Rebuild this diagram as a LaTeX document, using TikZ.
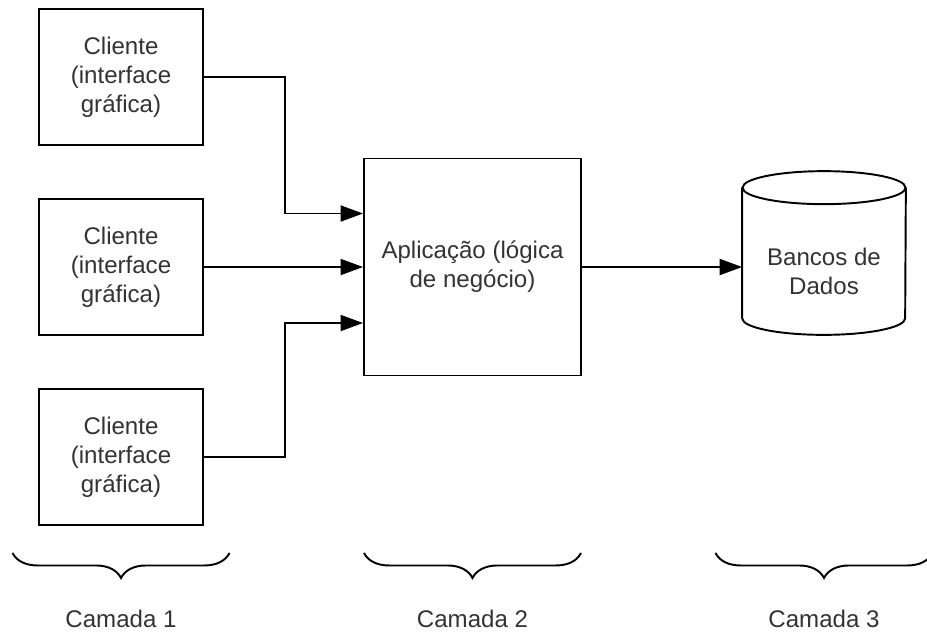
\documentclass[tikz,border=0pt]{standalone}
\usepackage{fontspec}
\setmainfont{Liberation Sans}
\usetikzlibrary{positioning, arrows.meta, calc, decorations.pathreplacing}
\definecolor{txtgray}{RGB}{51,51,51}

\begin{document}
\begin{tikzpicture}
    [
        on grid,
        node distance=3.8cm and 7.03cm,
        txt/.style={font=\fontsize{13.7}{16.5}\selectfont, text=txtgray, align=center},
        client/.style={txt, draw, rectangle, minimum width=3.28cm, minimum height=2.72cm, line width=1.1pt},
        appbox/.style={txt, draw, rectangle, minimum width=4.34cm, minimum height=4.34cm, line width=1.1pt},
        dbbody/.style={rectangle, inner sep=0pt, minimum width=3.26cm, minimum height=3.26cm},
        dbline/.style={line width=1.1pt},
        flow/.style={-{Triangle[length=0.45cm, width=0.32cm]}, line width=1.1pt},
        layerbrace/.style={decorate, decoration={brace, mirror, amplitude=0.5cm}, line width=1.1pt},
        layer/.style={txt}
    ]
        \useasboundingbox (0,0) rectangle (18.54,-12.64);
        \clip (0,0) rectangle (18.54,-12.64);
        % =========================================================================
        % NODES
        % =========================================================================
        % --- Camada 1 ---
        \node [client] (cli2) at (2.42,-5.34) {Cliente\\(interface\\gráfica)};
        \node [client, above=of cli2] (cli1) {Cliente\\(interface\\gráfica)};
        \node [client, below=of cli2] (cli3) {Cliente\\(interface\\gráfica)};
        % --- Camada 2 ---
        \node [appbox, right=of cli2] (app) {Aplicação (lógica\\de negócio)};
        % --- Camada 3 ---
        \node [dbbody, right=of app, yshift=0.28cm] (db) {};
        \node [txt, right=of app, yshift=-0.08cm] (dbtxt) {Bancos de\\Dados};
        % cylinder outline
        \draw [dbline] ([yshift=-0.33cm]db.north) ellipse [x radius=1.63cm, y radius=0.33cm];
        \draw [dbline] ([yshift=-0.33cm]db.north west) -- ([yshift=0.33cm]db.south west)
            arc [start angle=180, end angle=360, x radius=1.63cm, y radius=0.33cm]
            -- ([yshift=-0.33cm]db.north east);

        % =========================================================================
        % PATHS
        % =========================================================================
        \coordinate (in1) at ($(app.west)+(0,1.07)$);
        \coordinate (in3) at ($(app.west)+(0,-1.12)$);
        \draw [flow] (cli1.east) -- ++(1.62,0) |- (in1);
        \draw [flow] (cli2.east) -- (app.west);
        \draw [flow] (cli3.east) -- ++(1.62,0) |- (in3);
        \draw [flow] (app.east) -- (app.east -| db.west);

        % =========================================================================
        % LAYERS
        % =========================================================================
        \path (cli3.south) ++(0,-0.54) coordinate (b1c);
        \coordinate (b2c) at (app |- b1c);
        \coordinate (b3c) at (db |- b1c);
        \foreach \c in {1,2,3} {
            \draw [layerbrace] ($(b\c c)+(-2.17,0)$) -- ($(b\c c)+(2.17,0)$);
        }
        \node [layer] (cam1) at ($(b1c)+(0,-1.32)$) {Camada 1};
        \node [layer] (cam2) at ($(b2c)+(0,-1.32)$) {Camada 2};
        \node [layer] (cam3) at ($(b3c)+(0,-1.32)$) {Camada 3};

    \end{tikzpicture}
\end{document}
